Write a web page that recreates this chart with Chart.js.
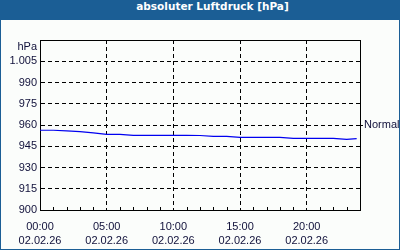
<!DOCTYPE html>
<html>
<head>
<meta charset="utf-8">
<script src="https://cdn.jsdelivr.net/npm/chart.js@4"></script>
<style>
    html, body { margin: 0; padding: 0; background: #fff; }
    #frame {
        position: relative;
        width: 398px; height: 249px;
        border: 1px solid #1b5e95; border-top: none;
        background: #fbfdfb;
    }
    #head {
        height: 20px; line-height: 20px;
        background: #1b5e95; color: #fff;
        font: bold 10.5px "DejaVu Sans", sans-serif;
        text-align: center; padding-left: 25px;
        margin: 0 -1px;
    }
    #wrap { position: absolute; left: 0; top: 20px; width: 398px; height: 229px; }
</style>
</head>
<body>
<div id="frame">
    <div id="head">absoluter Luftdruck [hPa]</div>
    <div id="wrap"><canvas id="druck"></canvas></div>
</div>
<script>
// Stunden am 02.02.26 und gemessener Luftdruck (hPa)
const stunden = [0, 1, 2, 3, 4, 5, 6, 7, 8, 9, 10, 11, 12, 13, 14, 15, 16, 17, 18, 19, 20, 21, 22, 23, 23.75];
const druck = [956.3, 956.3, 955.9, 955.3, 954.4, 953.4, 953.4, 952.7, 952.7, 952.7, 952.7, 952.7, 952.6,
    952.0, 952.0, 951.3, 951.3, 951.3, 951.3, 950.6, 950.6, 950.6, 950.6, 949.9, 950.4];
const xTicks = [0, 5, 10, 15, 20];
const yTicks = [900, 915, 930, 945, 960, 975, 990, 1005, 1020];
const normalWert = 960;
const datum = '02.02.26';

const labelFont = { family: 'Liberation Sans', size: 11, lineHeight: 1.27 };
const labelColor = '#10103a';

// kleine Stundenstriche an der x-Achse (innen)
const minorTicks = {
    id: 'minorTicks',
    afterDatasetsDraw(chart) {
        const { ctx, chartArea, scales } = chart;
        ctx.save();
        ctx.strokeStyle = '#000';
        ctx.lineWidth = 1;
        ctx.beginPath();
        for (let h = 1; h < 24; h++) {
            if (h % 5 === 0) continue;
            const x = Math.round(scales.x.getPixelForValue(h)) + 0.5;
            ctx.moveTo(x, chartArea.bottom);
            ctx.lineTo(x, chartArea.bottom - 3);
        }
        ctx.stroke();
        ctx.restore();
    }
};

new Chart(document.getElementById('druck'), {
    type: 'line',
    data: {
        datasets: [{
            data: stunden.map((h, i) => ({ x: h, y: druck[i] })),
            borderColor: '#0000f0',
            borderWidth: 1.2,
            pointRadius: 0,
            tension: 0
        }]
    },
    options: {
        responsive: true,
        maintainAspectRatio: false,
        animation: false,
        layout: { padding: { top: 20, left: 0, right: 0, bottom: 0 } },
        plugins: {
            legend: { display: false },
            tooltip: { enabled: false }
        },
        scales: {
            x: {
                type: 'linear',
                min: 0, max: 24,
                afterBuildTicks: (axis) => { axis.ticks = xTicks.map(v => ({ value: v })); },
                afterFit: (axis) => { axis.height = 39; },
                border: { display: true, color: '#000', width: 1, dash: [4, 3] },
                grid: { color: '#000', lineWidth: 1, drawTicks: false },
                ticks: {
                    padding: 10,
                    maxRotation: 0,
                    autoSkip: false,
                    font: labelFont,
                    color: labelColor,
                    callback: (v) => [String(v).padStart(2, '0') + ':00', datum]
                }
            },
            y: {
                min: 900, max: 1020,
                afterBuildTicks: (axis) => { axis.ticks = yTicks.map(v => ({ value: v })); },
                afterFit: (axis) => { axis.width = 39; },
                border: { display: true, color: '#000', width: 1, dash: [4, 3] },
                grid: { color: '#000', lineWidth: 1, drawTicks: false },
                ticks: {
                    padding: 3,
                    autoSkip: false,
                    font: labelFont,
                    color: labelColor,
                    callback: (v) => v === 1020 ? ['', 'hPa'] : v.toLocaleString('de-DE')
                }
            },
            normal: {
                position: 'right',
                min: 900, max: 1020,
                afterBuildTicks: (axis) => { axis.ticks = [{ value: normalWert }]; },
                afterFit: (axis) => { axis.width = 39; },
                border: { display: true, color: '#000', width: 1 },
                grid: { drawOnChartArea: false, color: '#000', tickLength: 3 },
                ticks: {
                    padding: 1,
                    autoSkip: false,
                    font: labelFont,
                    color: labelColor,
                    callback: () => 'Normal'
                }
            },
            top: {
                type: 'linear',
                position: 'top',
                min: 0, max: 24,
                afterFit: (axis) => { axis.height = 0; },
                border: { display: true, color: '#000', width: 1 },
                grid: { display: false },
                ticks: { display: false }
            }
        }
    },
    plugins: [minorTicks]
});
</script>
</body>
</html>
